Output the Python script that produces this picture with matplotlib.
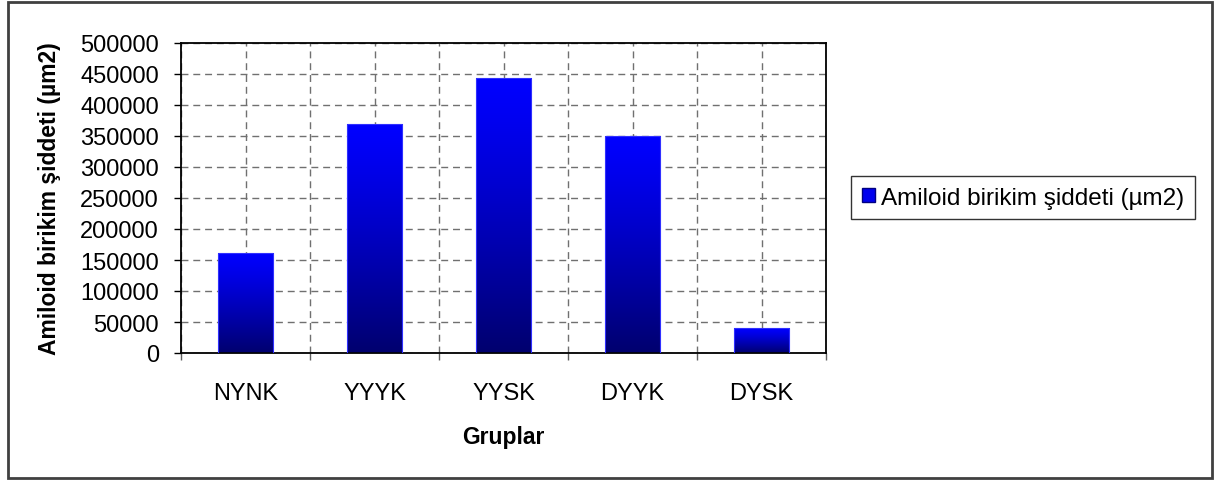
import numpy as np
import matplotlib
matplotlib.use("Agg")
import matplotlib.pyplot as plt
from matplotlib.patches import Rectangle

plt.rcParams['font.family'] = ['Liberation Sans', 'DejaVu Sans']

# veriler
gruplar = ["NYNK", "YYYK", "YYSK", "DYYK", "DYSK"]
degerler = [162000, 369000, 443000, 350000, 40000]
y_ticks = [0, 50000, 100000, 150000, 200000, 250000, 300000, 350000, 400000, 450000, 500000]
seri_adi = "Amiloid birikim şiddeti (µm2)"

fig = plt.figure(figsize=(12.16, 4.81), dpi=100)
ax = fig.add_axes([181 / 1216, 1 - 354 / 481, 645 / 1216, 310 / 481])

x = np.arange(len(gruplar))
bars = ax.bar(x, degerler, width=0.43, color='none', edgecolor='#3030ff',
              linewidth=0.8, zorder=3, label=seri_adi)

# gradyan dolgu (üst parlak mavi, alt lacivert)
t = np.linspace(0, 1, 256).reshape(-1, 1)
grad = np.zeros((256, 1, 3))
grad[..., 2] = (255 - 145 * t ** 1.2) / 255.0
for b in bars:
    bx, by = b.get_x(), b.get_y()
    bw, bh = b.get_width(), b.get_height()
    im = ax.imshow(grad, extent=[bx, bx + bw, by, by + bh], origin='upper',
                   aspect='auto', zorder=2, interpolation='bilinear')
    im.set_clip_path(b)

ax.set_xlim(-0.5, len(gruplar) - 0.5)
ax.set_ylim(0, 500000)
ax.set_yticks(y_ticks)
ax.set_yticklabels([str(v) for v in y_ticks])
ax.set_xticks(x)
ax.set_xticklabels(gruplar)
ax.set_xticks(np.arange(-0.5, len(gruplar), 1.0), minor=True)

ax.tick_params(axis='x', which='major', length=0, pad=21, labelsize=17)
ax.tick_params(axis='x', which='minor', length=5, width=1, direction='out', color='#606060')
ax.tick_params(axis='y', length=5, width=1, direction='out', pad=11, labelsize=17)

ax.set_axisbelow(True)
ax.grid(True, which='both', axis='x', color='#707070', linestyle=(0, (5, 3.5)), linewidth=1)
ax.grid(True, which='major', axis='y', color='#707070', linestyle=(0, (5, 3.5)), linewidth=1)

for s in ax.spines.values():
    s.set_color('black')
    s.set_linewidth(1.3)

ax.set_ylabel(seri_adi, fontsize=16.5, fontweight='bold')
ax.yaxis.set_label_coords(-0.186, 0.5)
ax.set_xlabel("Gruplar", fontsize=16.5, fontweight='bold')
ax.xaxis.set_label_coords(0.5, -0.232)

leg = fig.legend(handles=[Rectangle((0, 0), 1, 1, facecolor='#0000ee', edgecolor='#000080')],
                 labels=[seri_adi], loc='center left',
                 bbox_to_anchor=(851 / 1216, 1 - 198.5 / 481), fontsize=17.5,
                 frameon=True, fancybox=False, shadow=False, borderpad=0.45,
                 handlelength=0.55, handleheight=0.55, handletextpad=0.25,
                 borderaxespad=0)
leg.get_frame().set_edgecolor('black')
leg.get_frame().set_linewidth(1)

# dış çerçeve
fig.patches.append(Rectangle((8 / 1216, 2 / 481), 1204 / 1216, 476 / 481,
                             transform=fig.transFigure, fill=False,
                             edgecolor='#404040', linewidth=2))

fig.savefig("out.png", dpi=100)
